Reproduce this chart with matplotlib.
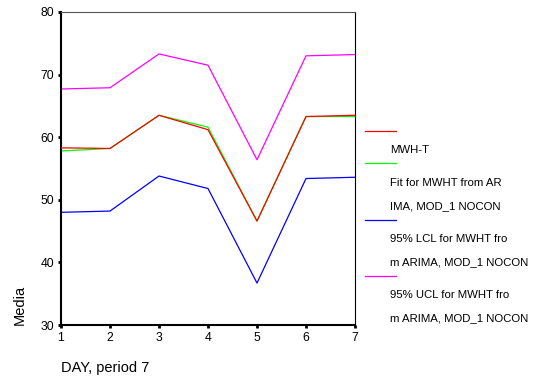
import matplotlib
matplotlib.use("Agg")
import matplotlib.pyplot as plt
from matplotlib.lines import Line2D

plt.rcParams['font.family'] = ['Liberation Sans', 'DejaVu Sans']

days = [1, 2, 3, 4, 5, 6, 7]
mwh_t = [58.3, 58.2, 63.5, 61.2, 46.6, 63.3, 63.5]
fit = [57.8, 58.2, 63.5, 61.6, 46.6, 63.3, 63.3]
lcl = [48.0, 48.2, 53.8, 51.8, 36.7, 53.4, 53.6]
ucl = [67.7, 67.9, 73.3, 71.5, 56.4, 73.0, 73.2]

legend_labels = ["", "MWH-T",
                 "Fit for MWHT from AR\nIMA, MOD_1 NOCON",
                 "95% LCL for MWHT fro\nm ARIMA, MOD_1 NOCON",
                 "95% UCL for MWHT fro\nm ARIMA, MOD_1 NOCON"]
colors = ["#ff0000", "#00ff00", "#0000ff", "#ff00ff"]

W, H = 537, 380
fig = plt.figure(figsize=(W / 100, H / 100), dpi=100)
x0, x1, y0, y1 = 61, 355, 12, 325
ax = fig.add_axes([x0 / W, 1 - y1 / H, (x1 - x0) / W, (y1 - y0) / H])

lw = 0.9
ax.plot(days, fit, color=colors[1], lw=lw, zorder=2)
ax.plot(days, lcl, color=colors[2], lw=lw, zorder=2)
ax.plot(days, ucl, color=colors[3], lw=lw, zorder=2)
ax.plot(days, mwh_t, color=colors[0], lw=lw, zorder=3)

ax.set_xlim(1, 7)
ax.set_ylim(30, 80)
ax.set_xticks(days)
ax.set_yticks([30, 40, 50, 60, 70, 80])
ax.tick_params(axis='both', direction='out', length=2, width=2, labelsize=8.8, pad=3)
ax.spines['left'].set_linewidth(1.5)
ax.spines['bottom'].set_linewidth(1.5)
ax.spines['right'].set_linewidth(0.8)
ax.spines['top'].set_linewidth(0.8)
ax.spines['top'].set_color('#555555')

fig.text(20 / W, 1 - 305 / H, "Media", rotation=90, ha='center', va='center', fontsize=10.5)
fig.text(61 / W, 1 - 368 / H, "DAY, period 7", ha='left', va='center', fontsize=10.5)

# legend
line_y = [131, 163, 220, 276]
text_rows = [[], [150], [183, 206], [239, 262], [295, 318]]
texts = [[], ["MWH-T"], legend_labels[2].split("\n"), legend_labels[3].split("\n"), legend_labels[4].split("\n")]
for c, ly in zip(colors, line_y):
    fig.add_artist(Line2D([365 / W, 396 / W], [1 - ly / H, 1 - ly / H], color=c, lw=0.9,
                          transform=fig.transFigure))
for rows, tx in zip(text_rows, texts):
    for ry, t in zip(rows, tx):
        fig.text(390 / W, 1 - ry / H, t, ha='left', va='center', fontsize=8.2)

fig.savefig("out.png", dpi=100)
